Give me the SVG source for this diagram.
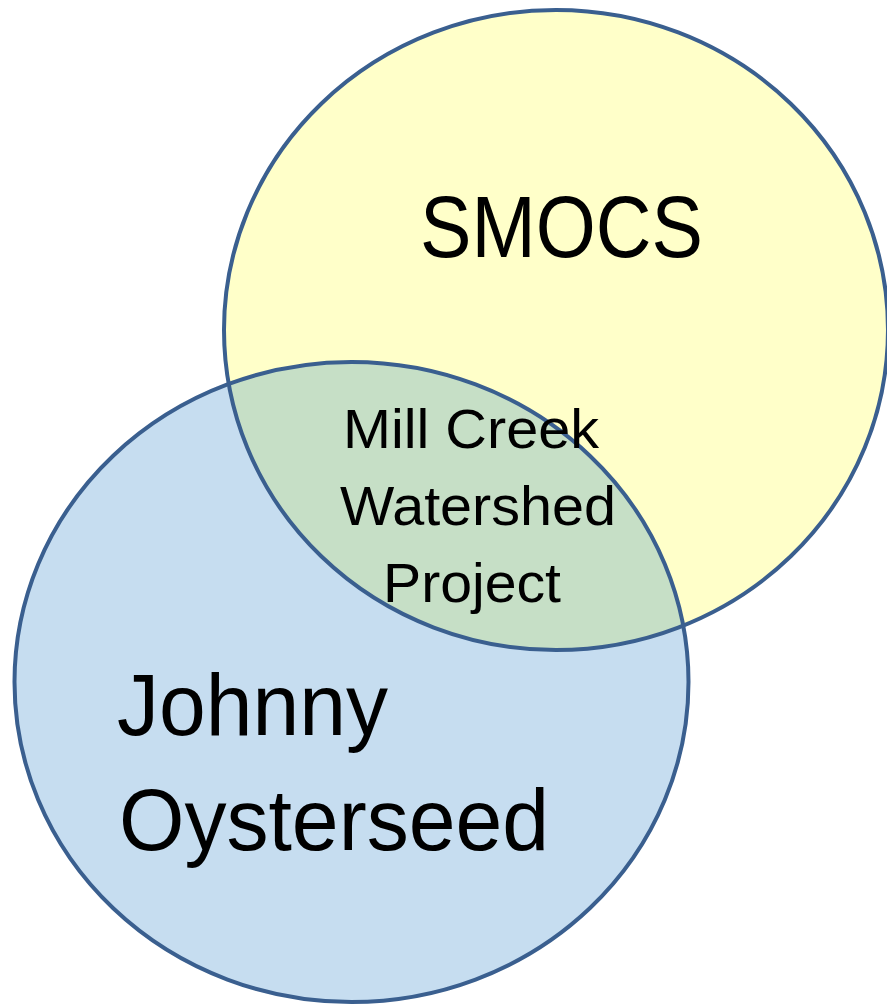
<svg xmlns="http://www.w3.org/2000/svg" width="887" height="1004" viewBox="0 0 887 1004">
  <style>
    .ring { fill: none; stroke: #3a5f8f; stroke-width: 4; }
    .lbl { font-family: "Liberation Sans", Arial, sans-serif; fill: #000; text-anchor: middle; }
  </style>
  <defs>
    <clipPath id="clipBlue">
      <ellipse cx="351.5" cy="682" rx="337" ry="320"/>
    </clipPath>
  </defs>
  <rect width="887" height="1004" fill="#ffffff"/>
  <g id="fills">
    <ellipse cx="556" cy="330" rx="332" ry="320" fill="#ffffc9"/>
    <ellipse cx="351.5" cy="682" rx="337" ry="320" fill="#c6ddf0"/>
    <ellipse cx="556" cy="330" rx="332" ry="320" fill="#c6dfc6" clip-path="url(#clipBlue)"/>
  </g>
  <g id="smocs">
    <ellipse class="ring" cx="556" cy="330" rx="332" ry="320"/>
    <text class="lbl" x="561.5" y="257" font-size="87" textLength="283" lengthAdjust="spacingAndGlyphs">SMOCS</text>
  </g>
  <g id="johnny-oysterseed">
    <ellipse class="ring" cx="351.5" cy="682" rx="337" ry="320"/>
    <text class="lbl" x="252.5" y="735" font-size="88" textLength="271" lengthAdjust="spacingAndGlyphs">Johnny</text>
    <text class="lbl" x="334" y="850" font-size="88" textLength="430" lengthAdjust="spacingAndGlyphs">Oysterseed</text>
  </g>
  <g id="mill-creek">
    <text class="lbl" x="471" y="448" font-size="56" textLength="256" lengthAdjust="spacingAndGlyphs">Mill Creek</text>
    <text class="lbl" x="478" y="525" font-size="56" textLength="276" lengthAdjust="spacingAndGlyphs">Watershed</text>
    <text class="lbl" x="472" y="602" font-size="56" textLength="178" lengthAdjust="spacingAndGlyphs">Project</text>
  </g>
  <g id="connectors"></g>
</svg>
